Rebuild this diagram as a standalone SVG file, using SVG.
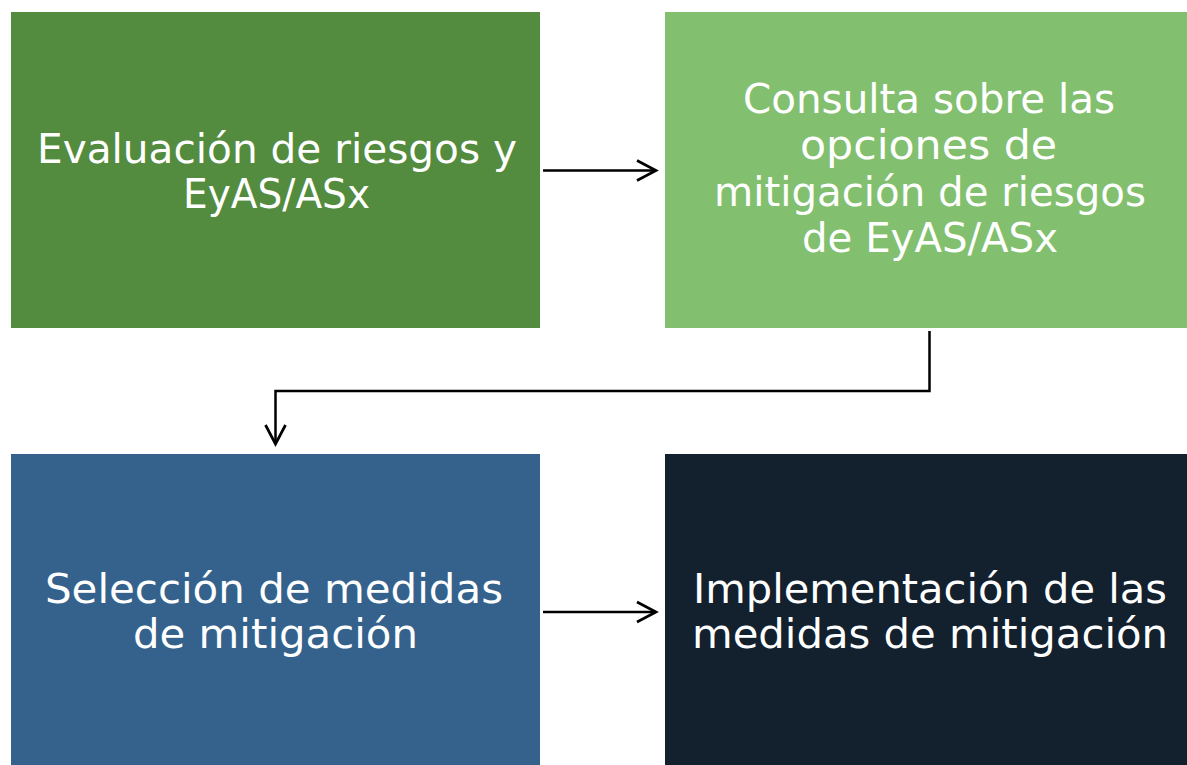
<svg xmlns="http://www.w3.org/2000/svg" width="1187" height="765" viewBox="0 0 1187 765">
<style>
  .lbl { font-family: "DejaVu Sans", "Liberation Sans", sans-serif; font-size: 41px; fill: #ffffff; text-anchor: middle; }
  .conn { fill: none; stroke: #000000; stroke-width: 2.5; }
</style>
<defs>
  <marker id="chev" markerUnits="userSpaceOnUse" markerWidth="24" markerHeight="26" refX="21" refY="12" orient="auto">
    <path d="M2,2 L21,12 L2,22" fill="none" stroke="#000000" stroke-width="2.7"/>
  </marker>
</defs>
<rect width="1187" height="765" fill="#ffffff"/>
<g id="node-evaluacion">
  <rect x="11" y="12" width="529" height="316" fill="#538B3F"/>
  <text class="lbl" x="277" y="163" textLength="480" lengthAdjust="spacingAndGlyphs">Evaluación de riesgos y</text>
  <text class="lbl" x="276.5" y="208" textLength="187" lengthAdjust="spacingAndGlyphs">EyAS/ASx</text>
</g>
<g id="node-consulta">
  <rect x="665" y="12" width="529" height="316" fill="#82C070"/>
  <text class="lbl" x="929" y="113" textLength="372" lengthAdjust="spacingAndGlyphs">Consulta sobre las</text>
  <text class="lbl" x="928.5" y="159" textLength="257" lengthAdjust="spacingAndGlyphs">opciones de</text>
  <text class="lbl" x="930" y="206" textLength="432" lengthAdjust="spacingAndGlyphs">mitigación de riesgos</text>
  <text class="lbl" x="930" y="252" textLength="256" lengthAdjust="spacingAndGlyphs">de EyAS/ASx</text>
</g>
<g id="node-seleccion">
  <rect x="11" y="454" width="529" height="311" fill="#34628C"/>
  <text class="lbl" x="274" y="603" textLength="458" lengthAdjust="spacingAndGlyphs">Selección de medidas</text>
  <text class="lbl" x="275.5" y="648" textLength="285" lengthAdjust="spacingAndGlyphs">de mitigación</text>
</g>
<g id="node-implementacion">
  <rect x="665" y="454" width="529" height="311" fill="#13202E"/>
  <text class="lbl" x="930" y="603" textLength="474" lengthAdjust="spacingAndGlyphs">Implementación de las</text>
  <text class="lbl" x="930" y="648" textLength="476" lengthAdjust="spacingAndGlyphs">medidas de mitigación</text>
</g>
<g id="connectors">
  <path class="conn" d="M543,170.5 L656,170.5" marker-end="url(#chev)"/>
  <path class="conn" d="M929.5,331 L929.5,391 L275.5,391 L275.5,444" marker-end="url(#chev)"/>
  <path class="conn" d="M543,612 L656,612" marker-end="url(#chev)"/>
</g>
</svg>
